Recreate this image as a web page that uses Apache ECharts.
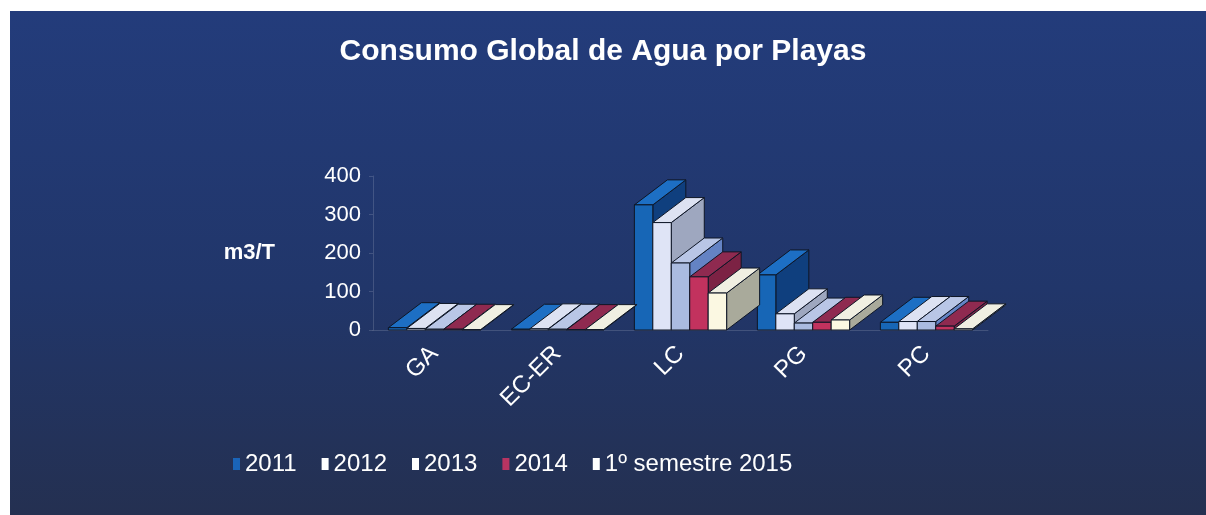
<!DOCTYPE html>
<html>
<head>
<meta charset="utf-8">
<style>
  html, body { margin: 0; padding: 0; background: #ffffff; }
  #chart { width: 1206px; height: 515px; }
</style>
<script src="https://cdn.jsdelivr.net/npm/echarts@6/dist/echarts.min.js"></script>
</head>
<body>
<div id="chart"></div>
<script>
// data
var categories = ['GA', 'EC-ER', 'LC', 'PG', 'PC'];
var years = ['2011', '2012', '2013', '2014', '1º semestre 2015'];
var v2011 = [6, 2, 325, 143, 20];
var v2012 = [4, 3, 279, 42, 22];
var v2013 = [2, 2, 174, 18, 22];
var v2014 = [2, 1, 138, 20, 10];
var v2015 = [1, 1, 96, 26, 3];
var yTicks = [0, 100, 200, 300, 400];

var allValues = [v2011, v2012, v2013, v2014, v2015];

// face colours: front, side, top, legend
var faces = [
  { front: '#1766b6', side: '#0f3f7e', top: '#1d6fc4', legend: '#1a64b8' },
  { front: '#dfe4f6', side: '#9ea7bf', top: '#dde2f2', legend: '#ffffff' },
  { front: '#aabbe0', side: '#6483c4', top: '#b9c6e6', legend: '#ffffff' },
  { front: '#c2325e', side: '#7c2244', top: '#8f2a50', legend: '#b73462' },
  { front: '#fbf8e2', side: '#a9aa9b', top: '#f0efe2', legend: '#ffffff' }
];

var DX = 33, DY = -25;

function renderBar(params, api) {
  var i = params.seriesIndex;
  var cat = api.value(0);
  var val = api.value(1);
  var base = api.coord([cat, 0]);
  var top = api.coord([cat, val]);
  var band = api.size([1, 0])[0];
  var w = band * 0.15;
  var x0 = base[0] + (i - 2.5) * w;
  var x1 = x0 + w;
  var yb = base[1];
  var yt = top[1];
  var f = faces[i];
  var stroke = { stroke: '#0e1626', lineWidth: 1 };
  return {
    type: 'group',
    children: [
      {
        type: 'polygon',
        shape: { points: [[x1, yt], [x1 + DX, yt + DY], [x1 + DX, yb + DY], [x1, yb]] },
        style: Object.assign({ fill: f.side }, stroke)
      },
      {
        type: 'polygon',
        shape: { points: [[x0, yt], [x1, yt], [x1 + DX, yt + DY], [x0 + DX, yt + DY]] },
        style: Object.assign({ fill: f.top }, stroke)
      },
      {
        type: 'rect',
        shape: { x: x0, y: yt, width: w, height: yb - yt },
        style: Object.assign({ fill: f.front }, stroke)
      }
    ]
  };
}

var series = years.map(function (y, i) {
  return {
    name: y,
    type: 'custom',
    renderItem: renderBar,
    itemStyle: { color: faces[i].legend },
    encode: { x: 0, y: 1 },
    data: categories.map(function (c, j) { return [j, allValues[i][j]]; })
  };
});

var chart = echarts.init(document.getElementById('chart'), null, { renderer: 'canvas' });

chart.setOption({
  animation: false,
  backgroundColor: 'transparent',
  textStyle: { fontFamily: 'Liberation Sans, Arial, sans-serif' },
  graphic: [{
    type: 'rect',
    z: -10,
    silent: true,
    shape: { x: 10, y: 11, width: 1196, height: 504 },
    style: {
      fill: new echarts.graphic.LinearGradient(0, 0, 0, 1, [
        { offset: 0, color: '#233c7b' },
        { offset: 0.55, color: '#21366a' },
        { offset: 1, color: '#243051' }
      ])
    }
  }],
  title: {
    text: 'Consumo Global de Agua por Playas',
    left: 'center',
    top: 32,
    textStyle: { color: '#ffffff', fontSize: 30, fontWeight: 'bold', fontFamily: 'Liberation Sans, Arial, sans-serif' }
  },
  legend: {
    left: 228,
    top: 447,
    icon: 'rect',
    itemWidth: 7,
    itemHeight: 12,
    itemGap: 25,
    textStyle: { color: '#ffffff', fontSize: 24 },
    data: years.map(function (y, i) {
      return { name: y, itemStyle: { color: faces[i].legend } };
    })
  },
  grid: { left: 373, right: 218, top: 176, bottom: 185 },
  xAxis: {
    type: 'category',
    data: categories,
    boundaryGap: true,
    axisLine: { lineStyle: { color: 'rgba(255,255,255,0.15)' } },
    axisTick: { show: false },
    axisLabel: { color: '#ffffff', fontSize: 24, rotate: 45, margin: 20 }
  },
  yAxis: {
    type: 'value',
    min: yTicks[0],
    max: yTicks[yTicks.length - 1],
    interval: 100,
    name: 'm3/T',
    nameLocation: 'middle',
    nameRotate: 0,
    nameGap: 98,
    nameTextStyle: { color: '#ffffff', fontSize: 22, fontWeight: 'bold' },
    axisLine: { show: true, lineStyle: { color: 'rgba(255,255,255,0.15)' } },
    axisTick: { show: true, length: 4, lineStyle: { color: 'rgba(255,255,255,0.15)' } },
    splitLine: { show: false },
    axisLabel: { color: '#ffffff', fontSize: 22, margin: 12 }
  },
  series: series
});
</script>
</body>
</html>
